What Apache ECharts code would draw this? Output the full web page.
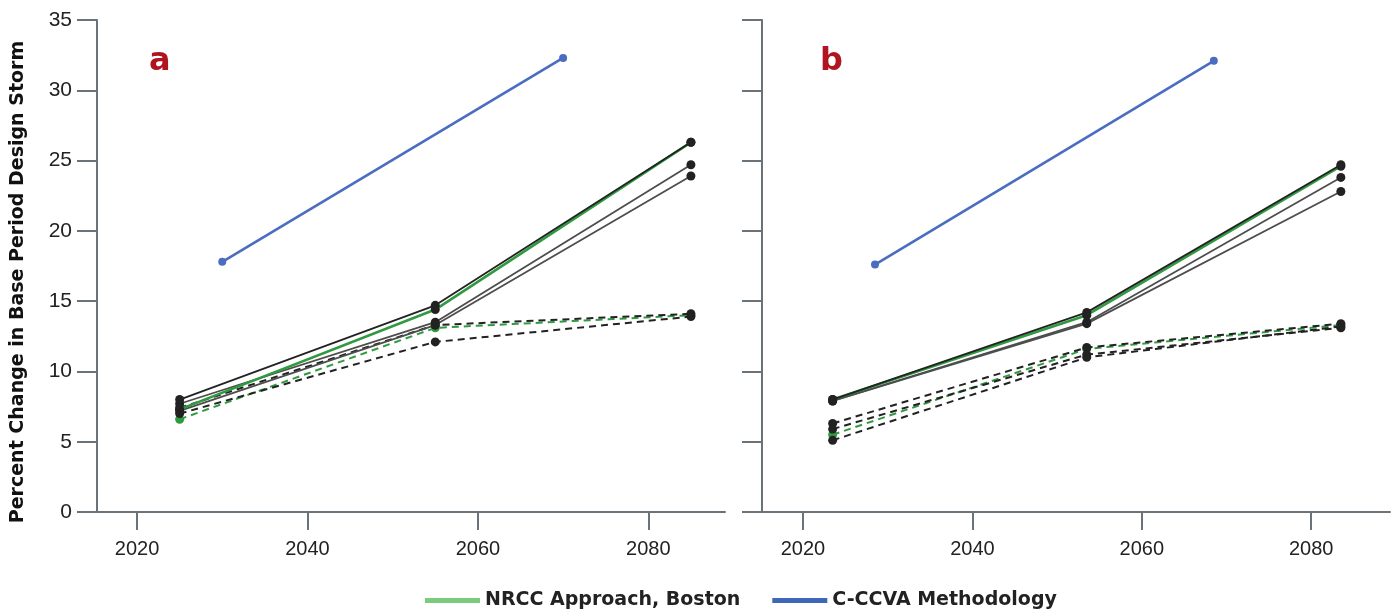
<!DOCTYPE html>
<html>
<head>
<meta charset="utf-8">
<script src="https://cdn.jsdelivr.net/npm/echarts@6/dist/echarts.min.js"></script>
<style>
  html, body { margin: 0; padding: 0; background: #ffffff; }
  #chart { width: 1396px; height: 609px; }
</style>
</head>
<body>
<div id="chart"></div>
<script>
// ---- data ----
const xTicks = [2020, 2040, 2060, 2080];
const yTitle = 'Percent Change in Base Period Design Storm';

// panel a
const yearsA = [2025, 2055, 2085];
const solidBlackA = [8.0, 14.7, 26.3];
const solidGreenA = [7.3, 14.4, 26.3];
const solidGrayA1 = [7.7, 13.5, 24.7];
const solidGrayA2 = [7.2, 13.3, 23.9];
const dashedGreenA = [6.6, 13.1, 14.0];
const dashedBlackA1 = [7.0, 12.1, 13.9];
const dashedBlackA2 = [7.4, 13.3, 14.1];
const ccvaYearsA = [2030, 2070];
const ccvaA = [17.8, 32.3];

// panel b
const yearsB = [2023.5, 2053.5, 2083.5];
const solidBlackB = [8.0, 14.2, 24.7];
const solidGreenB = [8.0, 14.0, 24.6];
const solidGrayB1 = [7.9, 13.5, 23.8];
const solidGrayB2 = [7.9, 13.4, 22.8];
const dashedGreenB = [5.5, 11.6, 13.3];
const dashedBlackB1 = [6.3, 11.7, 13.4];
const dashedBlackB2 = [5.9, 11.2, 13.1];
const dashedBlackB3 = [5.1, 11.0, 13.2];
const ccvaYearsB = [2028.5, 2068.5];
const ccvaB = [17.6, 32.1];

const legendNames = ['NRCC Approach, Boston', 'C-CCVA Methodology'];

// ---- styles ----
const AXIS_COLOR = '#6b737a';
const GREEN = '#2f9a3f';
const BLUE = '#4a6dc0';
const BLACK = '#222222';
const GRAY = '#4d4d4d';
const FONT = 'Liberation Sans';

const pairs = (xs, ys) => xs.map((x, i) => [x, ys[i]]);

function line(idx, xs, ys, color, width, dashed, symbolColor, z) {
  return {
    type: 'line',
    xAxisIndex: idx, yAxisIndex: idx,
    data: pairs(xs, ys),
    symbol: 'circle',
    symbolSize: 9,
    showSymbol: true,
    lineStyle: { color: color, width: width, type: dashed ? [7, 5] : 'solid' },
    itemStyle: { color: symbolColor },
    z: z,
    silent: true,
    animation: false
  };
}

function xAxis(idx, min, max) {
  return {
    type: 'value', gridIndex: idx, min: min, max: max,
    axisLine: { show: true, lineStyle: { color: AXIS_COLOR, width: 2 } },
    axisTick: { show: true, length: 18, inside: false, customValues: xTicks,
                lineStyle: { color: AXIS_COLOR, width: 2 } },
    axisLabel: { customValues: xTicks, margin: 27, color: '#222', fontSize: 20, fontFamily: FONT,
                 formatter: v => String(v) },
    splitLine: { show: false }
  };
}

function yAxis(idx, withLabels) {
  return {
    type: 'value', gridIndex: idx, min: 0, max: 35, interval: 5,
    axisLine: { show: true, lineStyle: { color: AXIS_COLOR, width: 2 } },
    axisTick: { show: true, length: 20, inside: false, lineStyle: { color: AXIS_COLOR, width: 2 } },
    axisLabel: { show: withLabels, margin: 25, color: '#222', fontSize: 21, fontFamily: FONT },
    splitLine: { show: false }
  };
}

function panelSeries(idx, d) {
  return [
    line(idx, d.years, d.dashed[0], GREEN, 2, true, GREEN, 3),
    ...d.dashed.slice(1).map(v => line(idx, d.years, v, BLACK, 2, true, BLACK, 4)),
    line(idx, d.years, d.gray[0], GRAY, 1.8, false, BLACK, 5),
    line(idx, d.years, d.gray[1], GRAY, 1.8, false, BLACK, 5),
    line(idx, d.years, d.green, GREEN, 2.6, false, BLACK, 6),
    line(idx, d.years, d.black, BLACK, 1.8, false, BLACK, 7),
    Object.assign(line(idx, d.ccvaYears, d.ccva, BLUE, 2.6, false, BLUE, 8), { symbolSize: 8 })
  ];
}

const chart = echarts.init(document.getElementById('chart'), null, { renderer: 'canvas' });

chart.setOption({
  backgroundColor: '#ffffff',
  animation: false,
  grid: [
    { left: 97, top: 20, width: 628, height: 492 },
    { left: 762, top: 20, width: 628, height: 492 }
  ],
  xAxis: [xAxis(0, 2015.3, 2089.0), xAxis(1, 2015.16, 2089.3)],
  yAxis: [yAxis(0, true), yAxis(1, false)],
  legend: {
    data: legendNames,
    left: 420, top: 586,
    icon: 'rect', itemWidth: 55, itemHeight: 5, itemGap: 32,
    textStyle: { fontFamily: 'DejaVu Sans', fontWeight: 'bold', fontSize: 19, color: '#222' },
    selectedMode: false
  },
  graphic: [
    { type: 'text', x: 18, y: 282, rotation: Math.PI / 2,
      style: { text: yTitle, fontFamily: 'DejaVu Sans', fontWeight: 'bold', fontSize: 19, fill: '#111',
               align: 'center', verticalAlign: 'middle' } },
    { type: 'text', left: 149, top: 46,
      style: { text: 'a', fontFamily: 'DejaVu Sans', fontWeight: 'bold', fontSize: 32, fill: '#b0141e' } },
    { type: 'text', left: 820, top: 46,
      style: { text: 'b', fontFamily: 'DejaVu Sans', fontWeight: 'bold', fontSize: 32, fill: '#b0141e' } }
  ],
  series: [
    ...panelSeries(0, {
      years: yearsA,
      dashed: [dashedGreenA, dashedBlackA1, dashedBlackA2],
      gray: [solidGrayA1, solidGrayA2],
      green: solidGreenA, black: solidBlackA,
      ccvaYears: ccvaYearsA, ccva: ccvaA
    }),
    ...panelSeries(1, {
      years: yearsB,
      dashed: [dashedGreenB, dashedBlackB1, dashedBlackB2, dashedBlackB3],
      gray: [solidGrayB1, solidGrayB2],
      green: solidGreenB, black: solidBlackB,
      ccvaYears: ccvaYearsB, ccva: ccvaB
    }),
    // legend entries
    { type: 'line', name: legendNames[0], data: [], xAxisIndex: 0, yAxisIndex: 0,
      itemStyle: { color: '#7ccb7c' }, lineStyle: { color: '#7ccb7c' } },
    { type: 'line', name: legendNames[1], data: [], xAxisIndex: 0, yAxisIndex: 0,
      itemStyle: { color: '#3f67b8' }, lineStyle: { color: '#3f67b8' } }
  ]
});
</script>
</body>
</html>
